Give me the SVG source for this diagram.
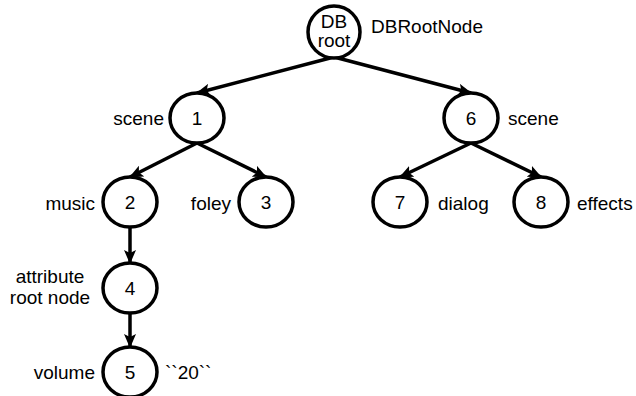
<svg xmlns="http://www.w3.org/2000/svg" width="636" height="396" viewBox="0 0 636 396">
<style>
.n{fill:#fff;stroke:#000;stroke-width:3.5}
.t{font-family:"Liberation Sans",Arial,sans-serif;font-size:19px;fill:#000}
.c{text-anchor:middle}
.e{text-anchor:end}
.l{stroke:#000;stroke-width:3.5;fill:none;marker-end:url(#a)}
</style>
<defs>
<marker id="a" markerUnits="userSpaceOnUse" markerWidth="14" markerHeight="12" viewBox="0 0 14 12" refX="13" refY="6" orient="auto">
<path d="M0,0 L14,6 L0,12 L3,6 Z" fill="#000"/>
</marker>
</defs>
<rect width="636" height="396" fill="#fff"/>
<g id="connectors">
<line class="l" x1="334" y1="57" x2="197" y2="93"/>
<line class="l" x1="334" y1="57" x2="471" y2="93"/>
<line class="l" x1="197" y1="143" x2="130" y2="177"/>
<line class="l" x1="197" y1="143" x2="266" y2="177"/>
<line class="l" x1="471" y1="143" x2="400" y2="177"/>
<line class="l" x1="471" y1="143" x2="541" y2="177"/>
<line class="l" x1="130" y1="227" x2="130" y2="263"/>
<line class="l" x1="130" y1="313" x2="130" y2="347"/>
</g>
<g id="root">
<ellipse class="n" cx="334" cy="32" rx="26" ry="26"/>
<text class="t c" x="334" y="28">DB</text>
<text class="t c" x="334" y="47">root</text>
<text class="t" x="371" y="33">DBRootNode</text>
</g>
<g id="n1">
<ellipse class="n" cx="197" cy="118" rx="27" ry="25"/>
<text class="t c" x="197" y="125">1</text>
<text class="t e" x="164" y="125">scene</text>
</g>
<g id="n6">
<ellipse class="n" cx="471" cy="118" rx="27" ry="25"/>
<text class="t c" x="471" y="125">6</text>
<text class="t" x="508" y="125">scene</text>
</g>
<g id="n2">
<ellipse class="n" cx="130" cy="202" rx="27" ry="25"/>
<text class="t c" x="130" y="209">2</text>
<text class="t e" x="95" y="210">music</text>
</g>
<g id="n3">
<ellipse class="n" cx="266" cy="202" rx="27" ry="25"/>
<text class="t c" x="266" y="209">3</text>
<text class="t e" x="231" y="210">foley</text>
</g>
<g id="n7">
<ellipse class="n" cx="400" cy="202" rx="27" ry="25"/>
<text class="t c" x="400" y="209">7</text>
<text class="t" x="438" y="210">dialog</text>
</g>
<g id="n8">
<ellipse class="n" cx="541" cy="202" rx="27" ry="25"/>
<text class="t c" x="541" y="209">8</text>
<text class="t" x="577" y="210">effects</text>
</g>
<g id="n4">
<ellipse class="n" cx="130" cy="288" rx="27" ry="25"/>
<text class="t c" x="130" y="295">4</text>
<text class="t c" x="50" y="283">attribute</text>
<text class="t c" x="50" y="304">root node</text>
</g>
<g id="n5">
<ellipse class="n" cx="130" cy="372" rx="27" ry="25"/>
<text class="t c" x="130" y="379">5</text>
<text class="t e" x="95" y="379">volume</text>
<text class="t" x="165" y="379">``20``</text>
</g>
</svg>
